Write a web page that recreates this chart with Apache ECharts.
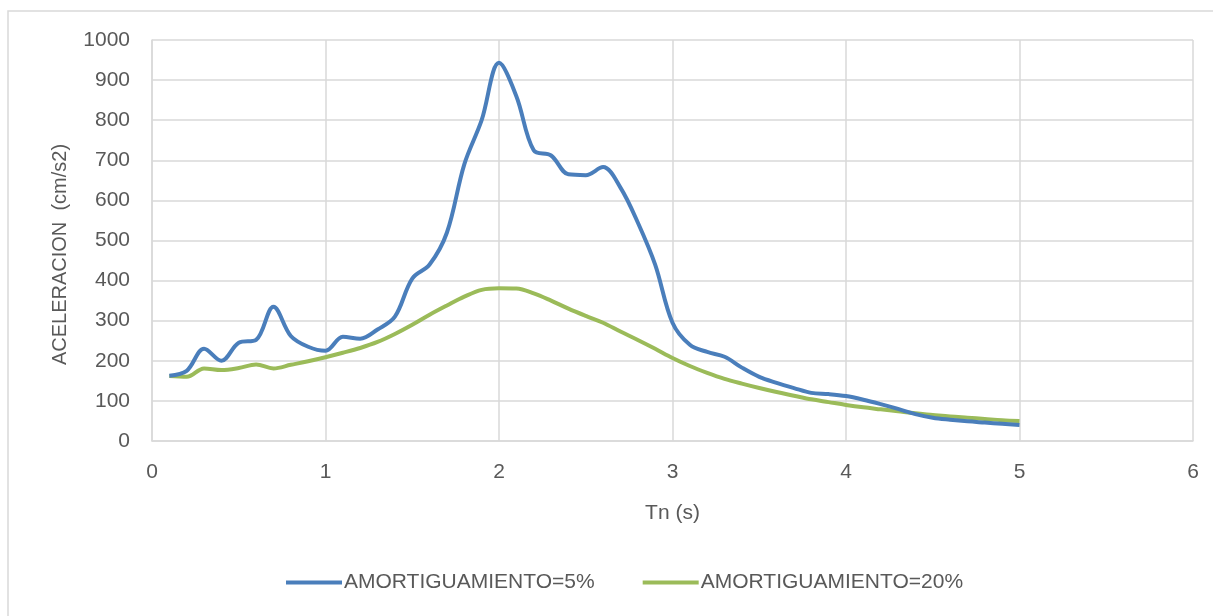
<!DOCTYPE html>
<html>
<head>
<meta charset="utf-8">
<title>Espectro de aceleraciones</title>
<script src="https://cdn.jsdelivr.net/npm/echarts@6/dist/echarts.min.js"></script>
<style>
  html, body { margin: 0; padding: 0; background: #ffffff; }
  #chart { width: 1213px; height: 616px; }
</style>
</head>
<body>
<div id="chart"></div>
<script>
// Periodos Tn (s)
const periods = [0.1, 0.2, 0.3, 0.4, 0.5, 0.6, 0.7, 0.8, 0.9, 1.0,
                 1.1, 1.2, 1.3, 1.4, 1.5, 1.6, 1.7, 1.8, 1.9, 2.0,
                 2.1, 2.2, 2.3, 2.4, 2.5, 2.6, 2.7, 2.8, 2.9, 3.0,
                 3.1, 3.2, 3.3, 3.4, 3.5, 3.6, 3.7, 3.8, 3.9, 4.0,
                 4.1, 4.2, 4.3, 4.4, 4.5, 4.6, 4.7, 4.8, 4.9, 5.0];

// Aceleración espectral (cm/s2), amortiguamiento 5%
const accel5 = [163, 175, 230, 200, 245, 252, 335, 262, 235, 225,
                260, 255, 278, 310, 405, 440, 520, 690, 800, 943,
                860, 725, 712, 665, 663, 683, 632, 545, 440, 295,
                240, 222, 210, 183, 160, 145, 132, 120, 117, 112,
                103, 92, 80, 67, 58, 53, 49, 46, 43, 40];

// Aceleración espectral (cm/s2), amortiguamiento 20%
const accel20 = [162, 160, 181, 177, 182, 191, 181, 190, 199, 209,
                 220, 232, 247, 267, 290, 315, 338, 360, 377, 381,
                 380, 368, 350, 330, 312, 295, 273, 252, 230, 207,
                 187, 170, 155, 143, 132, 122, 113, 104, 97, 90,
                 84, 79, 74, 69, 65, 61, 58, 55, 52, 50];

const seriesNames = ['AMORTIGUAMIENTO=5%', 'AMORTIGUAMIENTO=20%'];

const FONT = '"Liberation Sans", Arial, sans-serif';
const TEXT = '#595959';
const GRID = '#d9d9d9';
const FS = 21;

const pairs = vals => periods.map((t, i) => [t, vals[i]]);

const chart = echarts.init(document.getElementById('chart'), null, { renderer: 'canvas' });

chart.setOption({
  animation: false,
  backgroundColor: '#ffffff',
  textStyle: { fontFamily: FONT },
  graphic: [{
    type: 'rect',
    silent: true,
    shape: { x: 8, y: 11, width: 1230, height: 630 },
    style: { fill: 'none', stroke: GRID, lineWidth: 1.5 }
  }],
  grid: { left: 152, top: 40, right: 20, bottom: 175, containLabel: false },
  legend: {
    bottom: 18,
    left: 281,
    itemWidth: 56,
    itemHeight: 4,
    itemGap: 48,
    icon: 'rect',
    textStyle: { color: TEXT, fontSize: FS, fontFamily: FONT, padding: [0, 0, 0, -3] },
    data: seriesNames
  },
  xAxis: {
    type: 'value',
    min: 0,
    max: 6,
    interval: 1,
    name: 'Tn (s)',
    nameLocation: 'middle',
    nameGap: 62,
    nameTextStyle: { color: TEXT, fontSize: FS, fontFamily: FONT },
    axisLine: { show: true, lineStyle: { color: GRID, width: 1.5 } },
    axisTick: { show: false },
    axisLabel: { color: TEXT, fontSize: FS, fontFamily: FONT, margin: 21 },
    splitLine: { show: true, lineStyle: { color: GRID, width: 1.5 } }
  },
  yAxis: {
    type: 'value',
    min: 0,
    max: 1000,
    interval: 100,
    name: 'ACELERACION  (cm/s2)',
    nameLocation: 'middle',
    nameGap: 82,
    nameTextStyle: { color: TEXT, fontSize: 20, fontFamily: FONT, padding: [0, 28, 0, 0] },
    axisLine: { show: true, lineStyle: { color: GRID, width: 1.5 } },
    axisTick: { show: false },
    axisLabel: { color: TEXT, fontSize: FS, fontFamily: FONT, margin: 22, formatter: v => String(v) },
    splitLine: { show: true, lineStyle: { color: GRID, width: 1.5 } }
  },
  series: [
    {
      name: seriesNames[0],
      type: 'line',
      data: pairs(accel5),
      smooth: 0.35,
      symbol: 'none',
      lineStyle: { color: '#4a7ebb', width: 4 },
      itemStyle: { color: '#4a7ebb' },
      z: 3
    },
    {
      name: seriesNames[1],
      type: 'line',
      data: pairs(accel20),
      smooth: 0.35,
      symbol: 'none',
      lineStyle: { color: '#9bbb59', width: 4 },
      itemStyle: { color: '#9bbb59' },
      z: 2
    }
  ]
});
</script>
</body>
</html>
